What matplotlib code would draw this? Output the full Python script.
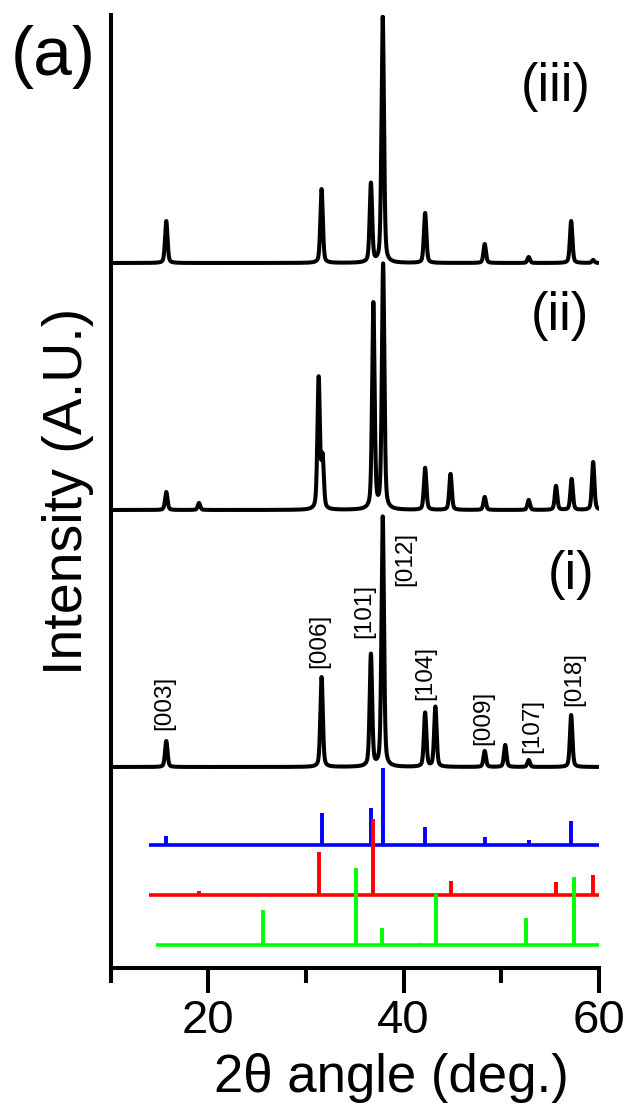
import numpy as np
import matplotlib
matplotlib.use("Agg")
import matplotlib.pyplot as plt
from matplotlib.ticker import FixedLocator

plt.rcParams['font.family'] = ['Liberation Sans', 'DejaVu Sans']

# measured XRD patterns: peak position (deg) and height (a.u.), plus vertical offset
pat_i_pos = [15.7, 31.6, 36.65, 37.86, 42.2, 43.25, 48.3, 50.4, 52.8, 57.15]
pat_i_h = [26, 90, 112, 250, 54, 60, 16, 22, 7, 52]
pat_i_base = 201

pat_ii_pos = [15.7, 19.05, 31.3, 31.7, 36.9, 37.9, 42.2, 44.8, 48.3, 52.8, 55.6, 57.2, 59.4]
pat_ii_h = [18, 7, 131, 50, 206, 245, 42, 36, 13, 10, 24, 31, 48]
pat_ii_base = 458

pat_iii_pos = [15.7, 31.6, 36.65, 37.86, 42.2, 48.3, 52.8, 57.15, 59.4]
pat_iii_h = [42, 74, 79, 246, 50, 19, 6, 42, 3]
pat_iii_base = 705

# reference stick patterns
ref_blue_pos = [15.7, 31.6, 36.65, 37.86, 42.2, 48.3, 52.8, 57.15]
ref_blue_h = [9, 32, 37, 77, 18, 8, 5, 24]
ref_blue_base = 123

ref_red_pos = [19.05, 31.3, 36.9, 44.8, 55.6, 59.4]
ref_red_h = [4, 43, 76, 14, 13, 20]
ref_red_base = 73

ref_green_pos = [25.57, 35.08, 37.76, 41.7, 43.3, 46.2, 52.5, 57.4]
ref_green_h = [35, 77, 17, 2, 51, 1, 27, 68]
ref_green_base = 23

hkl_labels = ['[003]', '[006]', '[101]', '[012]', '[104]', '[009]', '[107]', '[018]']
hkl_x = [15.5, 31.4, 36.0, 40.2, 42.2, 48.2, 53.2, 57.5]
hkl_y = [265, 327, 357, 409, 295, 250, 242, 289]


def profile(x, pos, h, w=0.3, eta=0.4):
    y = np.zeros_like(x)
    for p, a in zip(pos, h):
        g = np.exp(-4 * np.log(2) * ((x - p) / w) ** 2)
        l = 1 / (1 + 4 * ((x - p) / w) ** 2)
        y += a * (eta * l + (1 - eta) * g)
    return y


fig = plt.figure(figsize=(6.26, 11.05), dpi=100)
ax = fig.add_axes([110.6 / 626, 137 / 1105, 488.4 / 626, 953 / 1105])

x = np.linspace(10, 60, 4000)
for pos, h, base in [(pat_i_pos, pat_i_h, pat_i_base),
                     (pat_ii_pos, pat_ii_h, pat_ii_base),
                     (pat_iii_pos, pat_iii_h, pat_iii_base)]:
    ax.plot(x, base + profile(x, pos, h), color='black', lw=2.9)

for pos, h, base, start, col in [(ref_blue_pos, ref_blue_h, ref_blue_base, 13.9, '#0000ff'),
                                 (ref_red_pos, ref_red_h, ref_red_base, 13.9, '#ff0000'),
                                 (ref_green_pos, ref_green_h, ref_green_base, 14.6, '#00ff00')]:
    ax.hlines(base, start, 60, color=col, lw=2.6)
    ax.vlines(pos, base, np.array(h) + base, color=col, lw=2.8)

for lab, lx, ly in zip(hkl_labels, hkl_x, hkl_y):
    ax.text(lx, ly, lab, rotation=90, ha='center', va='center', fontsize=17.5)

ax.text(55.6, 881, '(iii)', ha='center', va='center', fontsize=38)
ax.text(56.0, 652, '(ii)', ha='center', va='center', fontsize=38)
ax.text(57.1, 393, '(i)', ha='center', va='center', fontsize=38)

ax.set_xlim(10, 60)
ax.set_ylim(0, 953)
ax.spines['top'].set_visible(False)
ax.spines['right'].set_visible(False)
ax.spines['left'].set_linewidth(2.9)
ax.spines['bottom'].set_linewidth(2.9)
ax.set_yticks([])
ax.xaxis.set_major_locator(FixedLocator([20, 40, 60]))
ax.xaxis.set_minor_locator(FixedLocator([10, 30, 50]))
ax.tick_params(axis='x', which='major', length=18, width=2.9, labelsize=34, pad=4)
ax.tick_params(axis='x', which='minor', length=11, width=2.9)

fig.text(391 / 626, 13 / 1105, '2θ angle (deg.)', ha='center', va='baseline', fontsize=38)
fig.text(68 / 626, (1105 - 491) / 1105, 'Intensity (A.U.)', rotation=90,
         ha='center', va='center', fontsize=40)
fig.text(53 / 626, (1105 - 57) / 1105, '(a)', ha='center', va='center', fontsize=50)

fig.savefig('out.png', dpi=100)
